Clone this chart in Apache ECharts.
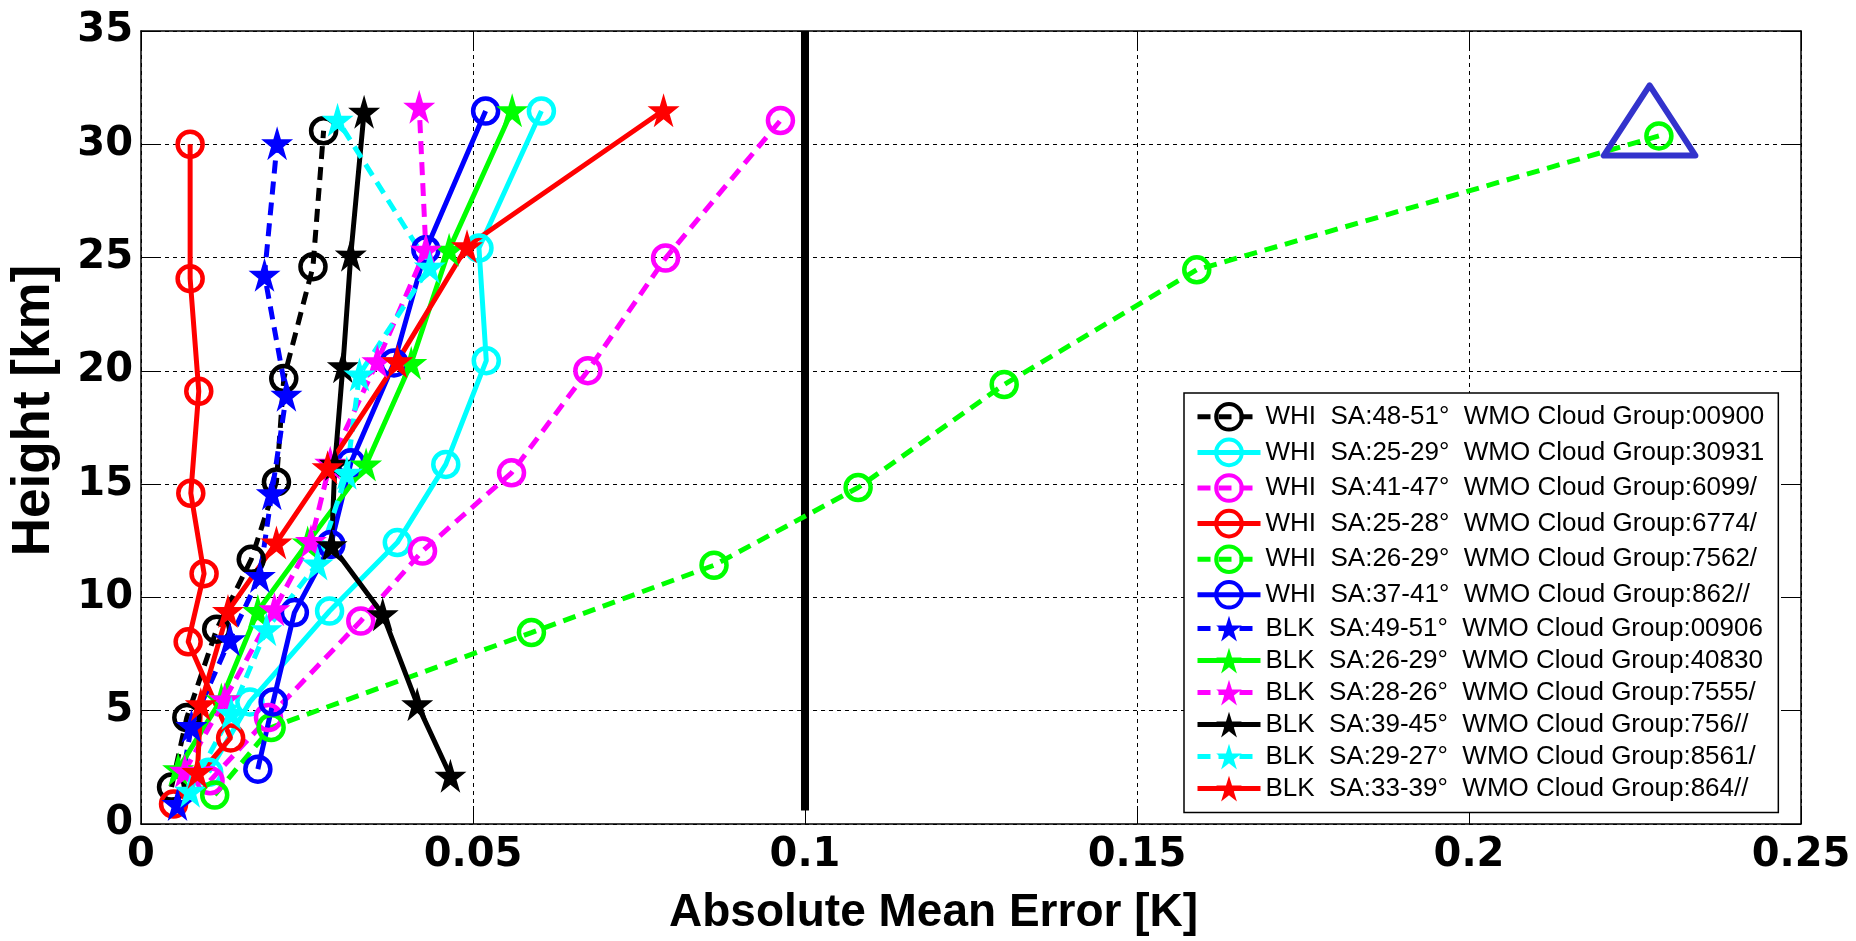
<!DOCTYPE html>
<html>
<head>
<meta charset="utf-8">
<script src="https://cdn.jsdelivr.net/npm/echarts@6/dist/echarts.min.js"></script>
<style>
  html, body { margin: 0; padding: 0; background: #fff; }
  #chart { width: 1856px; height: 941px; }
</style>
</head>
<body>
<div id="chart"></div>
<script>
// ---------- DATA ----------
const xTicks = [0, 0.05, 0.1, 0.15, 0.2, 0.25];
const yTicks = [0, 5, 10, 15, 20, 25, 30, 35];

const seriesNames = [
  'WHI  SA:48-51\u00b0  WMO Cloud Group:00900',
  'WHI  SA:25-29\u00b0  WMO Cloud Group:30931',
  'WHI  SA:41-47\u00b0  WMO Cloud Group:6099/',
  'WHI  SA:25-28\u00b0  WMO Cloud Group:6774/',
  'WHI  SA:26-29\u00b0  WMO Cloud Group:7562/',
  'WHI  SA:37-41\u00b0  WMO Cloud Group:862//',
  'BLK  SA:49-51\u00b0  WMO Cloud Group:00906',
  'BLK  SA:26-29\u00b0  WMO Cloud Group:40830',
  'BLK  SA:28-26\u00b0  WMO Cloud Group:7555/',
  'BLK  SA:39-45\u00b0  WMO Cloud Group:756//',
  'BLK  SA:29-27\u00b0  WMO Cloud Group:8561/',
  'BLK  SA:33-39\u00b0  WMO Cloud Group:864//'
];

// absolute mean error [K] and height [km] for each profile
const whi00900Err = [0.0046, 0.0069, 0.0114, 0.0166, 0.0204, 0.0215, 0.0259, 0.0275];
const whi00900H   = [1.63, 4.7, 8.6, 11.68, 15.1, 19.66, 24.6, 30.6];

const whi30931Err = [0.0102, 0.0164, 0.0284, 0.0386, 0.0459, 0.0520, 0.0509, 0.0603];
const whi30931H   = [2.28, 5.39, 9.4, 12.42, 15.87, 20.45, 25.42, 31.47];

const whi6099Err  = [0.0104, 0.0192, 0.0331, 0.0424, 0.0558, 0.0673, 0.0790, 0.0963];
const whi6099H    = [1.91, 4.7, 8.96, 12.05, 15.5, 20.01, 24.98, 31.05];

const whi6774Err  = [0.0049, 0.0135, 0.0071, 0.0095, 0.0075, 0.0087, 0.0074, 0.0074];
const whi6774H    = [0.88, 3.8, 8.04, 11.05, 14.6, 19.1, 24.07, 30.0];

const whi7562Err  = [0.0111, 0.0196, 0.0588, 0.0863, 0.1080, 0.1300, 0.1590, 0.2286];
const whi7562H    = [1.28, 4.26, 8.45, 11.42, 14.85, 19.4, 24.46, 30.37];

const whi862Err   = [0.0176, 0.0199, 0.0231, 0.0286, 0.0316, 0.0381, 0.0429, 0.0519];
const whi862H     = [2.42, 5.39, 9.33, 12.34, 15.94, 20.35, 25.35, 31.47];

const blk00906Err = [0.0055, 0.0076, 0.0134, 0.0179, 0.0197, 0.0219, 0.0186, 0.0205];
const blk00906H   = [0.88, 4.33, 8.15, 10.95, 14.6, 18.95, 24.24, 30.05];

const blk40830Err = [0.0056, 0.0121, 0.0176, 0.0251, 0.0339, 0.0407, 0.0464, 0.0559];
const blk40830H   = [2.42, 5.5, 9.4, 12.42, 15.87, 20.35, 25.35, 31.5];

const blk7555Err  = [0.0066, 0.0126, 0.0201, 0.0256, 0.0285, 0.0356, 0.0429, 0.0419];
const blk7555H    = [2.35, 5.5, 9.48, 12.49, 15.94, 20.42, 25.35, 31.66];

const blk756Err   = [0.0466, 0.0416, 0.0364, 0.0287, 0.0292, 0.0304, 0.0316, 0.0336];
const blk756H     = [2.13, 5.29, 9.26, 12.3, 15.9, 20.2, 25.13, 31.44];

const blk8561Err  = [0.0074, 0.0136, 0.0189, 0.0266, 0.0310, 0.0329, 0.0435, 0.0296];
const blk8561H    = [1.47, 4.9, 8.6, 11.5, 15.5, 19.84, 24.6, 31.08];

const blk864Err   = [0.0085, 0.0090, 0.0131, 0.0204, 0.0281, 0.0386, 0.0491, 0.0787];
const blk864H     = [2.3, 5.29, 9.4, 12.42, 15.75, 20.42, 25.5, 31.5];

// threshold line at 0.1 K
const thresholdErr = [0.1, 0.1];
const thresholdH   = [0.6, 35];

// highlight triangle around the 7562/ top point
const triangleErr = [0.2272, 0.2341, 0.2272, 0.2203, 0.2272];
const triangleH   = [29.5, 29.5, 32.6, 29.5, 29.5];

// ---------- STYLE / BUILD ----------
const errs = [whi00900Err, whi30931Err, whi6099Err, whi6774Err, whi7562Err, whi862Err,
              blk00906Err, blk40830Err, blk7555Err, blk756Err, blk8561Err, blk864Err];
const hs   = [whi00900H, whi30931H, whi6099H, whi6774H, whi7562H, whi862H,
              blk00906H, blk40830H, blk7555H, blk756H, blk8561H, blk864H];
const colors = ['#000000', '#00FFFF', '#FF00FF', '#FF0000', '#00FF00', '#0000FF',
                '#0000FF', '#00FF00', '#FF00FF', '#000000', '#00FFFF', '#FF0000'];
const dashed = [true, false, true, false, true, false, true, false, true, false, true, false];
const isStar = [false, false, false, false, false, false, true, true, true, true, true, true];

const STAR = 'path://M50 0 L61.17 34.63 L97.55 34.55 L68.07 55.87 L79.39 90.45 L50 69 L20.61 90.45 L31.93 55.87 L2.45 34.55 L38.83 34.63 Z';

function pairs(a, b) { return a.map((v, i) => [v, b[i]]); }

const dataSeries = seriesNames.map((name, k) => ({
  name: name,
  type: 'line',
  data: pairs(errs[k], hs[k]),
  symbol: isStar[k] ? STAR : 'circle',
  symbolSize: isStar[k] ? [32, 34] : 25,
  symbolKeepAspect: false,
  showAllSymbol: true,
  itemStyle: isStar[k]
    ? { color: colors[k], borderWidth: 0 }
    : { color: 'rgba(255,255,255,0)', borderColor: colors[k], borderWidth: 4.5 },
  lineStyle: { color: colors[k], width: 5, type: dashed[k] ? [13, 8] : 'solid' },
  emphasis: { disabled: true },
  z: 3
}));

const extraSeries = [
  {
    name: 'threshold', type: 'line', data: pairs(thresholdErr, thresholdH),
    symbol: 'none', lineStyle: { color: '#000', width: 8 }, z: 2, emphasis: { disabled: true }
  },
  {
    name: 'highlight', type: 'line', data: pairs(triangleErr, triangleH),
    symbol: 'none', lineStyle: { color: '#3333CC', width: 6, join: 'round', cap: 'round' },
    z: 4, emphasis: { disabled: true }
  }
];

const tickFont = { fontFamily: '"DejaVu Sans", sans-serif', fontWeight: 'bold', fontSize: 40, color: '#000' };
const titleFont = { fontFamily: 'Arial, "Liberation Sans", sans-serif', fontWeight: 'bold', fontSize: 46, color: '#000' };
const gridLine = { show: true, lineStyle: { color: '#000', width: 1, type: [4, 4] } };
const axLine = { show: true, onZero: false, lineStyle: { color: '#000', width: 1.5 } };
const axTick = { show: true, inside: true, length: 18, lineStyle: { color: '#000', width: 1 } };

const option = {
  animation: false,
  backgroundColor: '#fff',
  grid: { left: 136, right: 55, top: 31, bottom: 116, containLabel: false },
  xAxis: [
    {
      type: 'value', min: xTicks[0], max: xTicks[xTicks.length - 1],
      interval: xTicks[1] - xTicks[0], position: 'bottom',
      axisLine: axLine, axisTick: axTick, splitLine: gridLine,
      axisLabel: Object.assign({ margin: 12, formatter: v => String(xTicks.find(t => Math.abs(t - v) < 1e-9)) }, tickFont),
      name: 'Absolute Mean Error [K]', nameLocation: 'middle', nameGap: 66,
      nameTextStyle: Object.assign({ padding: [0, 75, 0, 0] }, titleFont)
    },
    {
      type: 'value', min: xTicks[0], max: xTicks[xTicks.length - 1],
      interval: xTicks[1] - xTicks[0], position: 'top',
      axisLine: axLine, axisTick: axTick, splitLine: { show: false }, axisLabel: { show: false }
    }
  ],
  yAxis: [
    {
      type: 'value', min: yTicks[0], max: yTicks[yTicks.length - 1],
      interval: yTicks[1] - yTicks[0], position: 'left',
      axisLine: axLine, axisTick: axTick, splitLine: gridLine,
      axisLabel: Object.assign({ margin: 8 }, tickFont),
      name: 'Height [km]', nameLocation: 'middle', nameGap: 80,
      nameTextStyle: Object.assign({}, titleFont, { fontSize: 53, padding: [0, 0, 0, 34] })
    },
    {
      type: 'value', min: yTicks[0], max: yTicks[yTicks.length - 1],
      interval: yTicks[1] - yTicks[0], position: 'right',
      axisLine: axLine, axisTick: axTick, splitLine: { show: false }, axisLabel: { show: false }
    }
  ],
  legend: {
    data: seriesNames,
    orient: 'vertical',
    left: 1184, top: 393,
    backgroundColor: '#fff',
    borderColor: '#000', borderWidth: 1.5,
    padding: [9, 14, 11, 11],
    itemWidth: 63, itemHeight: 32, itemGap: 6,
    selectedMode: false,
    lineStyle: { width: 5 },
    itemStyle: { borderWidth: 4 },
    textStyle: { fontFamily: 'Arial, "Liberation Sans", sans-serif', fontSize: 26, color: '#000' }
  },
  series: extraSeries.concat(dataSeries)
};

const chart = echarts.init(document.getElementById('chart'), null, { renderer: 'canvas' });
chart.setOption(option);
</script>
</body>
</html>
